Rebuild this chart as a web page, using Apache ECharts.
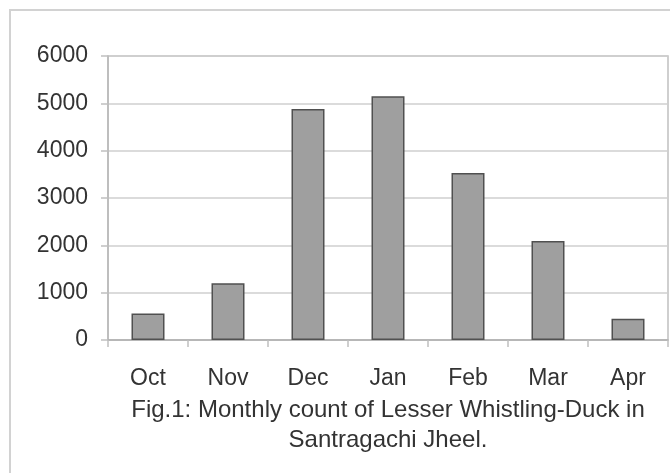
<!DOCTYPE html>
<html>
<head>
<meta charset="utf-8">
<script src="https://cdn.jsdelivr.net/npm/echarts@6/dist/echarts.min.js"></script>
<style>
html,body{margin:0;padding:0;background:#fff;}
#chart{width:670px;height:473px;}
</style>
</head>
<body>
<div id="chart"></div>
<script>
const months = ['Oct', 'Nov', 'Dec', 'Jan', 'Feb', 'Mar', 'Apr'];
const counts = [560, 1200, 4880, 5150, 3530, 2090, 450];
const yTicks = [0, 1000, 2000, 3000, 4000, 5000, 6000];
const captionLines = ['Fig.1: Monthly count of Lesser Whistling-Duck in', 'Santragachi Jheel.'];

const chart = echarts.init(document.getElementById('chart'), null, {renderer: 'canvas'});
const font = '"Liberation Sans", Arial, sans-serif';
const textColor = '#333333';

chart.setOption({
  animation: false,
  backgroundColor: '#fff',
  title: {
    text: captionLines.join('\n'),
    left: 383,
    top: 390,
    textAlign: 'center',
    textStyle: {
      fontFamily: font,
      fontSize: 24,
      fontWeight: 'normal',
      color: textColor,
      lineHeight: 30
    }
  },
  graphic: [{
    type: 'rect',
    shape: {x: 10, y: 10, width: 700, height: 500},
    style: {fill: 'none', stroke: '#d2d2d2', lineWidth: 2},
    silent: true,
    z: -1
  }],
  grid: {
    left: 108, right: 2, top: 56, bottom: 133,
    show: true,
    borderColor: '#c0c0c0',
    borderWidth: 1.5,
    containLabel: false
  },
  xAxis: {
    type: 'category',
    data: months,
    boundaryGap: true,
    axisLine: {show: true, lineStyle: {color: '#b0b0b0', width: 1.5}},
    axisTick: {show: true, length: 7, inside: false, lineStyle: {color: '#c0c0c0', width: 1.5}},
    axisLabel: {
      margin: 27,
      fontFamily: font,
      fontSize: 23,
      color: textColor
    }
  },
  yAxis: {
    type: 'value',
    min: yTicks[0],
    max: yTicks[yTicks.length - 1],
    interval: 1000,
    axisLine: {show: true, lineStyle: {color: '#b8b8b8', width: 1.5}},
    axisTick: {show: true, length: 7, lineStyle: {color: '#c0c0c0', width: 1.5}},
    splitLine: {show: true, lineStyle: {color: '#cfcfcf', width: 1.5}},
    axisLabel: {
      margin: 20,
      fontFamily: font,
      fontSize: 23,
      color: textColor,
      formatter: function (v) { return String(v); }
    }
  },
  series: [{
    type: 'bar',
    data: counts,
    barWidth: 33,
    itemStyle: {
      color: '#9f9f9f',
      borderColor: '#505050',
      borderWidth: 1.5
    }
  }]
});
</script>
</body>
</html>
